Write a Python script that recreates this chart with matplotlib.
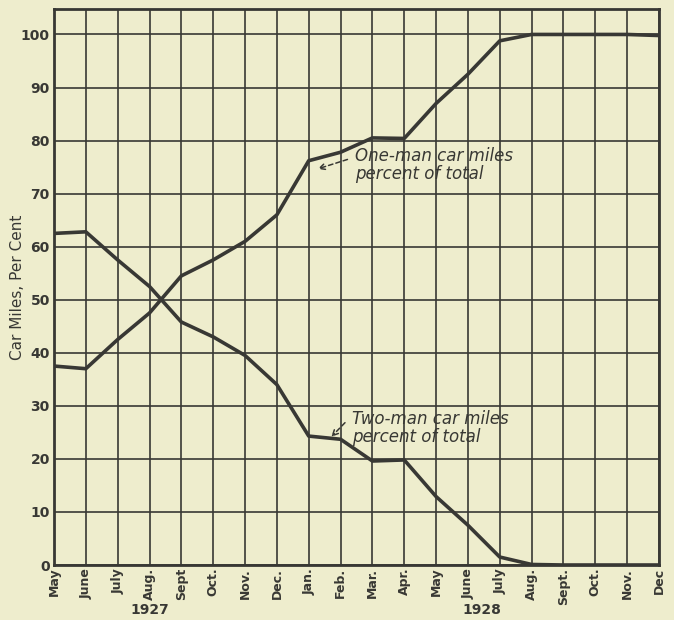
import matplotlib
matplotlib.use("Agg")
import matplotlib.pyplot as plt

months = ["May", "June", "July", "Aug.", "Sept", "Oct.", "Nov.", "Dec.", "Jan.", "Feb.",
          "Mar.", "Apr.", "May", "June", "July", "Aug.", "Sept.", "Oct.", "Nov.", "Dec"]
one_man = [37.5, 37.0, 42.5, 47.5, 54.5, 57.5, 61.0, 66.0, 76.2, 77.8,
           80.5, 80.4, 87.0, 92.5, 98.8, 100.0, 100.0, 100.0, 100.0, 99.8]
two_man = [62.5, 62.8, 57.5, 52.5, 45.8, 43.0, 39.5, 34.0, 24.3, 23.7,
           19.6, 19.8, 12.9, 7.5, 1.5, 0.1, 0.0, 0.0, 0.0, 0.0]
yticks = [0, 10, 20, 30, 40, 50, 60, 70, 80, 90, 100]
years = [("1927", 3), ("1928", 13.45)]

bg = "#eeedcd"
ink = "#383834"

fig = plt.figure(figsize=(6.74, 6.20), dpi=100, facecolor=bg)
ax = fig.add_axes([0.0801, 0.0887, 0.8976, 0.8968], facecolor=bg)
x = list(range(len(months)))

ax.set_xlim(0, len(months) - 1)
ax.set_ylim(0, 104.8)
for xi in x:
    ax.axvline(xi, color=ink, lw=1.2, zorder=1)
for yv in yticks:
    ax.axhline(yv, color=ink, lw=1.2, zorder=1)

ax.plot(x, one_man, color=ink, lw=2.6, zorder=3)
ax.plot(x, two_man, color=ink, lw=2.6, zorder=3)

for s in ax.spines.values():
    s.set_color(ink)
    s.set_linewidth(2.0)

ax.set_xticks(x)
ax.set_xticklabels(months, rotation=90, fontsize=9, fontweight="bold", color=ink)
ax.set_yticks(yticks)
ax.set_yticklabels([str(v) for v in yticks], fontsize=10, fontweight="bold", color=ink)
ax.tick_params(axis="x", length=0, pad=2)
ax.tick_params(axis="y", length=0, pad=3)
fig.text(18 / 674, 1 - 287 / 620, "Car Miles, Per Cent", rotation=90, fontsize=11,
         color=ink, ha="center", va="center")

for label, xpos in years:
    ax.text(xpos, -0.068, label, transform=ax.get_xaxis_transform(), ha="center", va="top",
            fontsize=10, fontweight="bold", color=ink)

ax.text(9.45, 75.4, "One-man car miles\npercent of total", fontsize=12, style="italic",
        color=ink, ha="left", va="center", linespacing=0.95, zorder=4)
ax.annotate("", xy=(8.2, 74.5), xytext=(9.3, 76.6),
            arrowprops=dict(arrowstyle="->", linestyle=(0, (3, 2)), color=ink, lw=1.1), zorder=4)

ax.text(9.35, 25.8, "Two-man car miles\npercent of total", fontsize=12, style="italic",
        color=ink, ha="left", va="center", linespacing=0.95, zorder=4)
ax.annotate("", xy=(8.65, 23.8), xytext=(9.2, 27.2),
            arrowprops=dict(arrowstyle="->", linestyle=(0, (3, 2)), color=ink, lw=1.1), zorder=4)

fig.savefig("out.png", dpi=100, facecolor=bg)
